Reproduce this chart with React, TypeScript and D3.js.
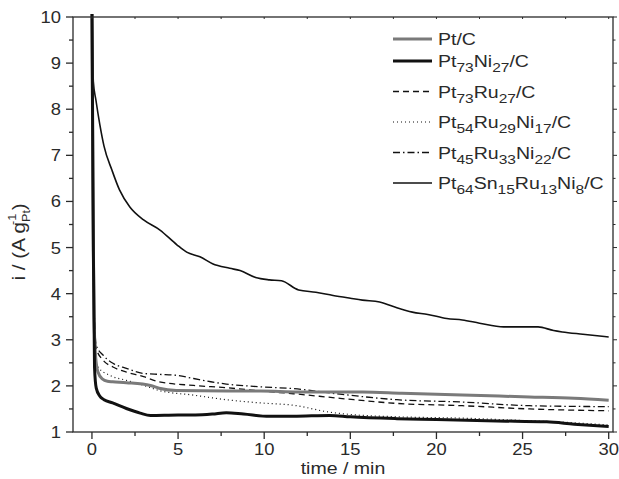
import React, { useEffect, useRef } from "react";
import * as d3 from "d3";

// chronoamperometry curves, [time (min), i (A/g Pt)]
const ptC: [number, number][] = [
  [0, 10.3], [0.05, 6.5], [0.12, 3.5], [0.22, 2.6], [0.35, 2.3], [0.6, 2.15], [0.9, 2.1],
  [1.2, 2.09], [2, 2.07], [3.4, 2.01], [3.9, 1.95], [4.9, 1.9], [7.8, 1.89], [9.8, 1.89],
  [12, 1.87], [14.4, 1.87], [15.7, 1.87], [18, 1.84], [21.5, 1.8], [25.4, 1.76], [28, 1.73], [30, 1.69],
];
const pt73Ni27: [number, number][] = [
  [0, 10.3], [0.08, 5], [0.15, 2.4], [0.25, 1.95], [0.45, 1.78], [0.7, 1.7], [1.2, 1.63],
  [2, 1.51], [2.8, 1.41], [3.4, 1.36], [5, 1.37], [6, 1.37], [7, 1.39], [7.8, 1.42], [8.8, 1.39],
  [10.3, 1.34], [11.7, 1.34], [13.8, 1.36], [15, 1.33], [17.7, 1.29], [20, 1.27], [23.5, 1.24],
  [26.4, 1.22], [28, 1.17], [30, 1.12],
];
const pt73Ru27: [number, number][] = [
  [0, 10.3], [0.06, 6], [0.12, 3.6], [0.25, 2.81], [0.64, 2.56], [1.22, 2.41], [2, 2.3],
  [3, 2.2], [3.9, 2.09], [5.9, 2.01], [7.8, 1.96], [9.8, 1.89], [11.7, 1.83], [14.4, 1.73],
  [17.7, 1.62], [21.5, 1.57], [25.4, 1.5], [30, 1.46],
];
const pt54Ru29Ni17: [number, number][] = [
  [0, 10.3], [0.06, 5.5], [0.12, 3.2], [0.2, 2.6], [0.35, 2.41], [1.03, 2.23], [2, 2.12],
  [3, 2.01], [3.9, 1.9], [5.9, 1.8], [7.8, 1.7], [9.8, 1.63], [11.7, 1.58], [13.8, 1.43],
  [15, 1.38], [17.7, 1.33], [21.5, 1.3], [25, 1.25], [28, 1.2], [30, 1.15],
];
const pt45Ru33Ni22: [number, number][] = [
  [0, 10.3], [0.06, 6.2], [0.12, 3.8], [0.25, 2.88], [0.64, 2.67], [1.22, 2.49], [2, 2.38],
  [3, 2.27], [3.9, 2.25], [4.9, 2.23], [5.9, 2.16], [6.9, 2.09], [7.8, 2.04], [9.8, 1.98],
  [11.7, 1.94], [14.4, 1.82], [17.7, 1.7], [21.5, 1.65], [25.4, 1.57], [30, 1.55],
];
const pt64Sn15Ru13Ni8: [number, number][] = [
  [0, 10.3], [0.03, 9.5], [0.08, 8.6], [0.23, 8.2], [0.46, 7.66], [0.7, 7.2], [1.16, 6.68],
  [1.6, 6.25], [2.2, 5.88], [3, 5.6], [3.95, 5.38], [4.93, 5.06], [5.5, 4.9], [6.27, 4.8],
  [7, 4.65], [8, 4.55], [8.6, 4.5], [9.5, 4.35], [10.3, 4.3], [11, 4.28], [12, 4.08], [13, 4.03],
  [14, 3.96], [15, 3.9], [15.7, 3.86], [16.7, 3.82], [17.5, 3.72], [18.6, 3.6], [19.5, 3.55],
  [20.6, 3.46], [21.5, 3.43], [22.5, 3.36], [23.9, 3.28], [25, 3.28], [25.9, 3.28], [26.8, 3.2],
  [27.3, 3.17], [28.5, 3.12], [30, 3.06],
];

const seriesData = [ptC, pt73Ni27, pt73Ru27, pt54Ru29Ni17, pt45Ru33Ni22, pt64Sn15Ru13Ni8];
const seriesNames = [
  "Pt/C",
  "Pt_{73}Ni_{27}/C",
  "Pt_{73}Ru_{27}/C",
  "Pt_{54}Ru_{29}Ni_{17}/C",
  "Pt_{45}Ru_{33}Ni_{22}/C",
  "Pt_{64}Sn_{15}Ru_{13}Ni_{8}/C",
];
const xTicks = [0, 5, 10, 15, 20, 25, 30];
const yTicks = [1, 2, 3, 4, 5, 6, 7, 8, 9, 10];

export default function App() {
  const ref = useRef<SVGSVGElement>(null);

  useEffect(() => {
    drawChart();
  });

  function drawChart() {
    const svg = d3.select(ref.current);
    svg.selectAll("*").remove();

    const left = 73, right = 613, top = 17, bottom = 432;
    const font = "'Liberation Sans', Arial, sans-serif";
    const ink = "#2a2a2a";
    const stretch = 1.15; // the original lettering is a bit wide

    const x = d3.scaleLinear().domain([-1.1, 30.25]).range([left, right]);
    const y = d3.scaleLinear().domain([1, 10]).range([bottom, top]);

    // styles per curve: colour, width, dash
    const styles = [
      { c: "#7a7a7a", w: 3, d: null },
      { c: "#111", w: 3, d: null },
      { c: "#111", w: 1.3, d: "6,4" },
      { c: "#111", w: 1.2, d: "1,3" },
      { c: "#111", w: 1.3, d: "7,3,1.5,3" },
      { c: "#111", w: 1.6, d: null },
    ];

    svg.append("defs").append("clipPath").attr("id", "plotclip")
      .append("rect").attr("x", left).attr("y", top - 3).attr("width", right - left).attr("height", bottom - top + 3);

    const line = d3.line<[number, number]>().x((d) => x(d[0])).y((d) => y(d[1])).curve(d3.curveMonotoneX);

    const g = svg.append("g").attr("clip-path", "url(#plotclip)");
    // thin ones first, thick ones on top
    const order = [5, 4, 3, 2, 0, 1];
    order.forEach((i) => {
      g.append("path")
        .attr("d", line(seriesData[i]))
        .attr("fill", "none")
        .attr("stroke", styles[i].c)
        .attr("stroke-width", styles[i].w)
        .attr("stroke-dasharray", styles[i].d)
        .attr("stroke-linejoin", "round");
    });

    // frame
    svg.append("rect")
      .attr("x", left).attr("y", top).attr("width", right - left).attr("height", bottom - top)
      .attr("fill", "none").attr("stroke", ink).attr("stroke-width", 1.3);

    const label = (px: number, py: number, anchor: string, size: number, rot = 0) =>
      svg.append("text")
        .attr("transform", `translate(${px},${py}) rotate(${rot}) scale(${stretch},1)`)
        .attr("text-anchor", anchor).attr("font-family", font).attr("font-size", size)
        .attr("fill", ink);

    // bottom axis
    const minorX = d3.range(0, 30.01, 2.5);
    minorX.forEach((t) => {
      const major = t % 5 === 0;
      svg.append("line").attr("x1", x(t)).attr("x2", x(t))
        .attr("y1", bottom).attr("y2", bottom + (major ? 7 : 4))
        .attr("stroke", ink).attr("stroke-width", 1.3);
      svg.append("line").attr("x1", x(t)).attr("x2", x(t))
        .attr("y1", top).attr("y2", top + 2)
        .attr("stroke", ink).attr("stroke-width", 1);
    });
    xTicks.forEach((t) => {
      label(x(t), bottom + 23, "middle", 16).text(t);
    });

    // left axis
    const minorY = d3.range(1, 10.01, 0.5);
    minorY.forEach((v) => {
      const major = v % 1 === 0;
      svg.append("line").attr("y1", y(v)).attr("y2", y(v))
        .attr("x1", left).attr("x2", left - (major ? 7 : 4))
        .attr("stroke", ink).attr("stroke-width", 1.3);
      svg.append("line").attr("y1", y(v)).attr("y2", y(v))
        .attr("x1", right).attr("x2", right + (major ? 4 : 2.5))
        .attr("stroke", ink).attr("stroke-width", 1);
    });
    yTicks.forEach((v) => {
      label(left - 12, y(v) + 6, "end", 16).text(v);
    });

    // axis titles
    label((left + right) / 2, 474, "middle", 17).text("time / min");

    const yl = label(25, 242, "middle", 18, -90);
    yl.append("tspan").text("i / (A g");
    yl.append("tspan").attr("font-size", 11).attr("dy", 5).text("Pt");
    yl.append("tspan").attr("font-size", 11).attr("dx", -13).attr("dy", -14).text("-1");
    yl.append("tspan").attr("dx", 3).attr("dy", 9).text(")");

    // legend
    seriesNames.forEach((name, i) => {
      const ly = i === 0 ? 39 : 61 + (i - 1) * 30.5;
      svg.append("line").attr("x1", 393).attr("x2", 432).attr("y1", ly).attr("y2", ly)
        .attr("stroke", styles[i].c).attr("stroke-width", styles[i].w)
        .attr("stroke-dasharray", styles[i].d);
      const t = label(438, ly + 6, "start", 17);
      const parts = name.split(/(_\{[^}]*\})/).filter((p) => p.length);
      let shifted = false;
      parts.forEach((p) => {
        if (p.startsWith("_{")) {
          t.append("tspan").attr("font-size", 13.5).attr("dy", shifted ? 0 : 5).text(p.slice(2, -1));
          shifted = true;
        } else {
          t.append("tspan").attr("dy", shifted ? -5 : 0).text(p);
          shifted = false;
        }
      });
    });
  }

  return (
    <svg
      ref={ref}
      width={619}
      height={479}
      style={{ position: "absolute", left: 0, top: 0, background: "#fff" }}
    />
  );
}
